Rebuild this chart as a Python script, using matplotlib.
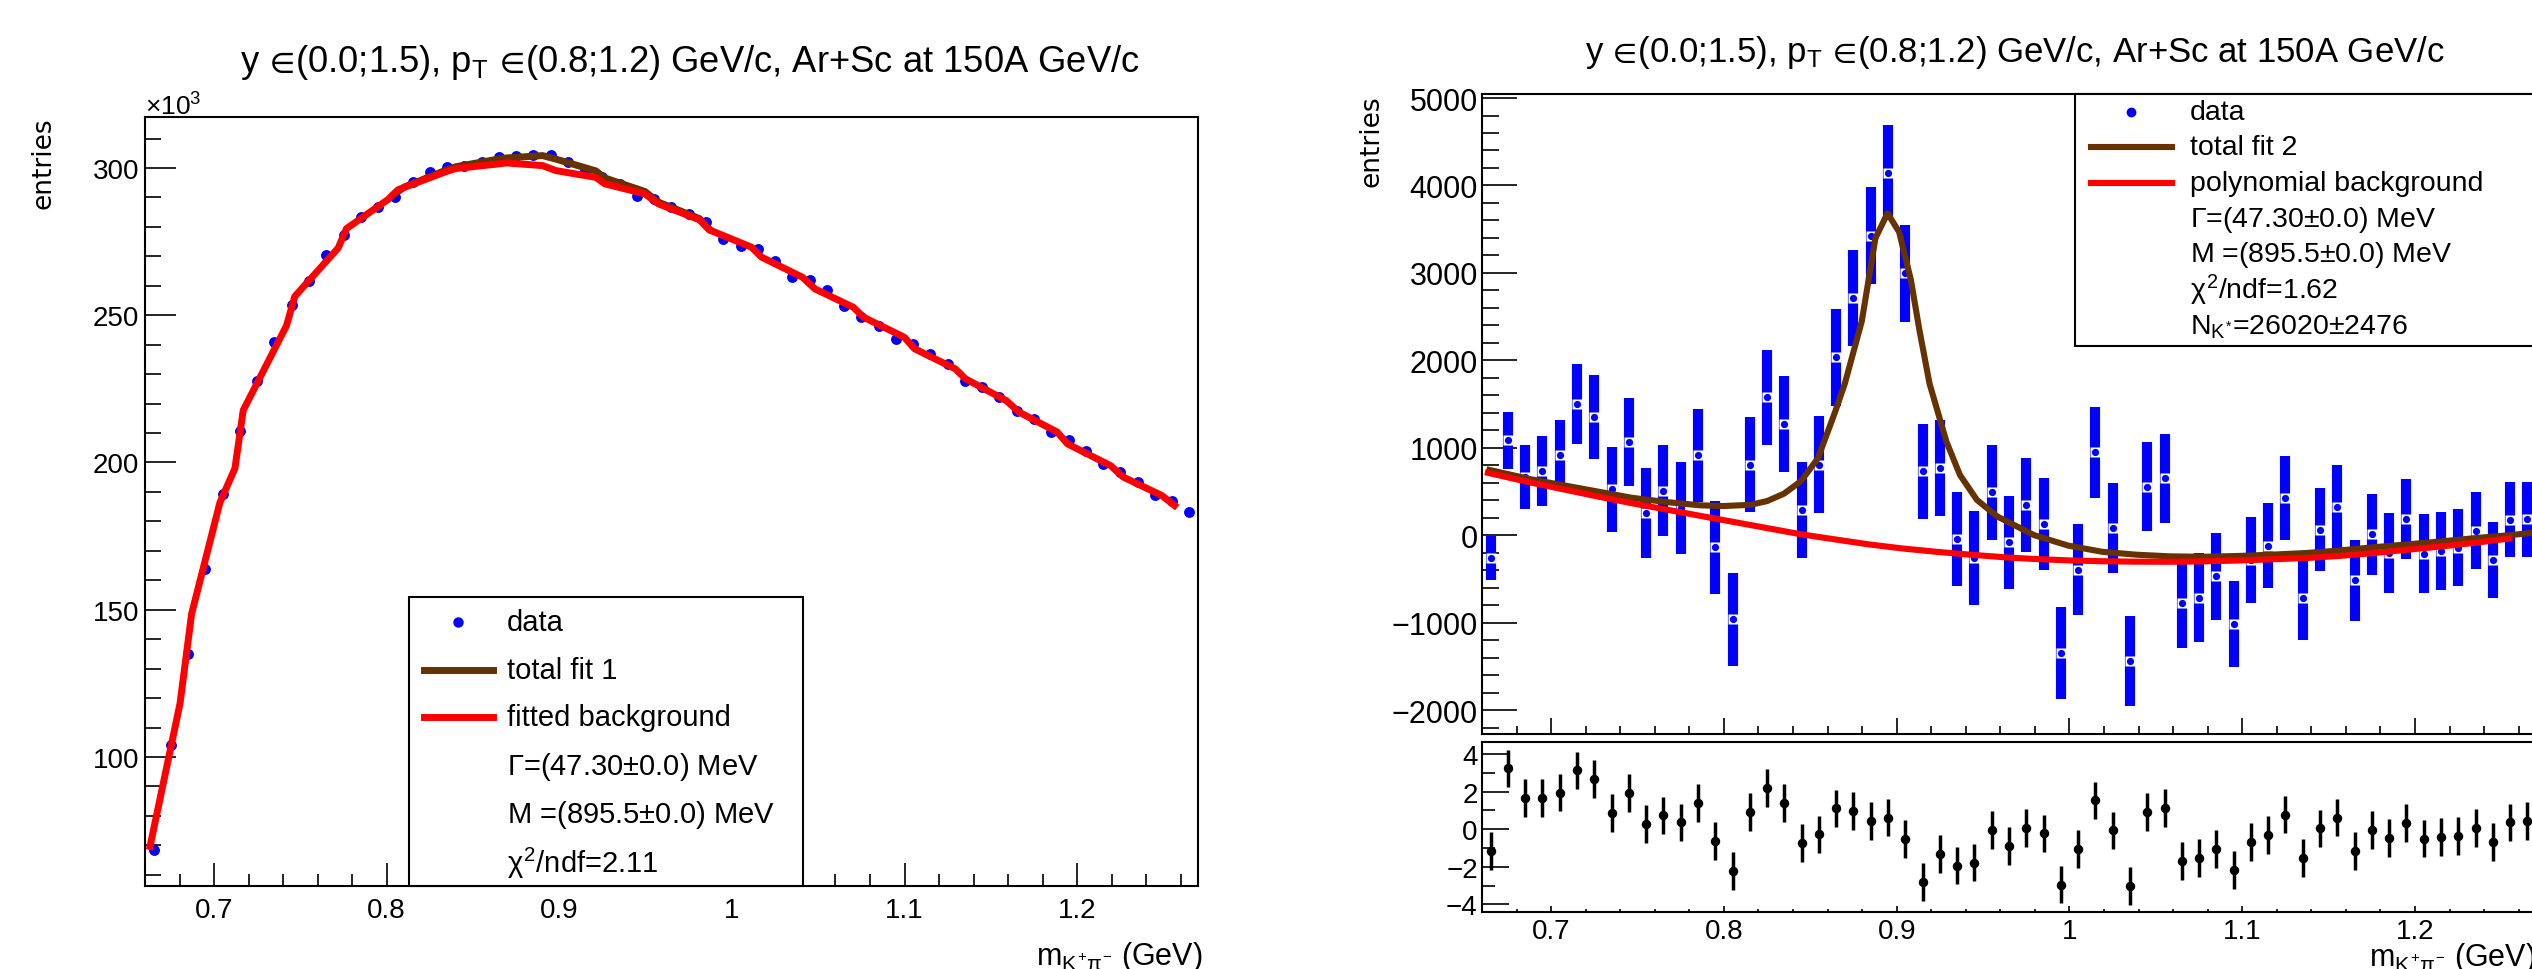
import matplotlib
matplotlib.use('Agg')
import matplotlib.pyplot as plt
from matplotlib.lines import Line2D
from matplotlib.patches import Rectangle
from matplotlib.ticker import MultipleLocator, FuncFormatter

plt.rcParams['font.family'] = ['Liberation Sans', 'DejaVu Sans']
plt.rcParams['mathtext.fontset'] = 'custom'
plt.rcParams['mathtext.rm'] = 'Liberation Sans'
plt.rcParams['mathtext.it'] = 'Liberation Sans'
plt.rcParams['mathtext.sf'] = 'Liberation Sans'
plt.rcParams['mathtext.fallback'] = 'stixsans'
plt.rcParams['axes.unicode_minus'] = True

# ---------------- data ----------------
mass = [0.665, 0.675, 0.685, 0.695, 0.705, 0.715, 0.725, 0.735, 0.745, 0.755,
        0.765, 0.775, 0.785, 0.795, 0.805, 0.815, 0.825, 0.835, 0.845, 0.855,
        0.865, 0.875, 0.885, 0.895, 0.905, 0.915, 0.925, 0.935, 0.945, 0.955,
        0.965, 0.975, 0.985, 0.995, 1.005, 1.015, 1.025, 1.035, 1.045, 1.055,
        1.065, 1.075, 1.085, 1.095, 1.105, 1.115, 1.125, 1.135, 1.145, 1.155,
        1.165, 1.175, 1.185, 1.195, 1.205, 1.215, 1.225, 1.235, 1.245, 1.255,
        1.265]

# left panel: entries (x10^3)
left_data = [68.5, 104.0, 135.0, 163.9, 189.3, 210.7, 227.7, 240.9, 253.3, 261.6,
             270.3, 277.2, 283.5, 286.8, 290.1, 295.4, 298.5, 300.2, 300.8, 302.1,
             303.6, 304.2, 304.5, 304.5, 302.1, 299.1, 296.8, 294.5, 290.4, 289.5,
             286.7, 284.4, 281.6, 275.9, 273.4, 272.5, 268.5, 262.9, 262.0, 258.7,
             253.1, 249.3, 246.3, 242.0, 240.1, 236.7, 233.5, 227.5, 225.6, 222.2,
             217.6, 214.8, 210.3, 207.5, 203.8, 199.4, 196.6, 193.4, 188.9, 187.0,
             183.2]

# fitted background curve (vertices of the drawn polyline, x10^3)
bg1_mass = [0.6629, 0.6803, 0.6870, 0.7034, 0.7121, 0.7169, 0.7420, 0.7468, 0.7719, 0.7767,
            0.8008, 0.8066, 0.8341, 0.8400, 0.8636, 0.8695, 0.8903, 0.8980, 0.9212, 0.9264,
            0.9496, 0.9574, 0.9812, 0.9868, 1.0113, 1.0172, 1.0408, 1.0482, 1.0703, 1.0763,
            1.0999, 1.1058, 1.1294, 1.1353, 1.1589, 1.1663, 1.1885, 1.1944, 1.2194, 1.2268,
            1.2490, 1.2564]
bg1_vals = [69.6, 118.2, 148.6, 186.4, 198.0, 217.7, 246.5, 256.4, 272.8, 279.4,
            289.3, 292.6, 298.7, 299.8, 301.3, 301.7, 300.8, 299.1, 296.8, 294.6,
            291.2, 287.8, 282.4, 279.0, 273.1, 269.7, 262.9, 258.9, 252.7, 249.3,
            242.5, 238.6, 231.8, 228.4, 221.0, 217.1, 210.3, 206.3, 198.9, 195.0,
            188.8, 185.4]
# total fit 1 (visible part of the polyline)
fit1_mass = [0.8046, 0.8105, 0.8341, 0.8400, 0.8636, 0.8695, 0.8903, 0.8980, 0.9212, 0.9264,
             0.9496, 0.9574, 0.9812, 0.9868]
fit1_vals = [291.2, 293.6, 299.2, 300.4, 302.9, 303.4, 304.2, 303.0, 299.0, 296.6,
             292.0, 288.4, 282.8, 279.3]

# right panel: background-subtracted entries and errors
sub = [-261, 1083, 660, 731, 917, 1501, 1354, 523, 1064, 252,
       508, 309, 912, -138, -964, 808, 1577, 1268, 285, 808,
       2033, 2713, 3425, 4147, 2993, 731, 770, -43, -261, 489,
       -81, 347, 128, -1344, -394, 950, 81, -1439, 556, 651,
       -774, -717, -470, -1021, -285, -119, 423, -713, 62, 328,
       -518, 10, -200, 181, -214, -181, -143, 52, -280, 176,
       181]
sub_err = [257, 321, 366, 401, 400, 461, 480, 489, 506, 513,
           520, 525, 530, 534, 537, 544, 546, 549, 549, 551,
           551, 551, 553, 544, 551, 546, 546, 541, 537, 539,
           534, 534, 530, 527, 523, 520, 518, 511, 511, 511,
           511, 508, 499, 492, 492, 487, 482, 482, 475, 473,
           463, 461, 458, 456, 451, 449, 439, 442, 435, 430,
           430]
resid = [-1.15, 3.23, 1.67, 1.67, 1.95, 3.13, 2.68, 0.87, 1.94, 0.28,
         0.73, 0.36, 1.40, -0.64, -2.24, 0.92, 2.18, 1.40, -0.73, -0.28,
         1.10, 0.98, 0.44, 0.62, -0.52, -2.81, -1.33, -1.94, -1.78, -0.05,
         -0.89, 0.07, -0.23, -2.95, -1.07, 1.53, -0.07, -3.02, 0.91, 1.12,
         -1.69, -1.55, -1.07, -2.17, -0.69, -0.32, 0.78, -1.55, 0.04, 0.62,
         -1.17, -0.04, -0.46, 0.32, -0.50, -0.43, -0.36, 0.07, -0.69, 0.36,
         0.43]

fit2_mass = [0.6643, 0.6879, 0.7074, 0.727, 0.7466, 0.7662, 0.7858, 0.7995, 0.8152, 0.825,
             0.8348, 0.8446, 0.8544, 0.8642, 0.870, 0.8798, 0.8877, 0.8947, 0.9014, 0.9082,
             0.9131, 0.919, 0.9288, 0.9366, 0.9464, 0.9582, 0.9796, 0.9992, 1.019, 1.0385,
             1.058, 1.0778, 1.0974, 1.117, 1.137, 1.156, 1.176, 1.1957, 1.2153, 1.235,
             1.2546, 1.2664]
fit2_vals = [746, 641, 570, 499, 428, 380, 342, 333, 347, 390,
             475, 618, 879, 1401, 1734, 2447, 3397, 3682, 3468, 2922,
             2352, 1734, 1069, 689, 404, 214, 0, -119, -190, -223,
             -242, -247, -238, -223, -204, -176, -138, -105, -71, -33,
             0, 24]
bg2_mass = [0.6634, 0.6879, 0.7074, 0.727, 0.7466, 0.7662, 0.7858, 0.8054, 0.825, 0.8446,
            0.8642, 0.8837, 0.9033, 0.9229, 0.9425, 0.964, 0.9796, 0.9992, 1.019, 1.0385,
            1.058, 1.0778, 1.0974, 1.117, 1.137, 1.156, 1.176, 1.1957, 1.2153, 1.235,
            1.2546]
bg2_vals = [713, 603, 523, 442, 366, 295, 223, 152, 81, 10,
            -48, -105, -152, -190, -223, -255, -272, -288, -298, -303,
            -304, -299, -290, -276, -261, -238, -204, -166, -128, -86,
            -38]

title = r'y $\!\in\!$(0.0;1.5), p$_{T}$ $\!\in\!$(0.8;1.2) GeV/c, Ar+Sc at 150A GeV/c'
xlab = r'm$_{K^{+}\pi^{-}}$ (GeV)'
legL = ['data', 'total fit 1', 'fitted background',
        r'$\Gamma$=(47.30$\pm$0.0) MeV', r'M =(895.5$\pm$0.0) MeV', r'$\chi^{2}$/ndf=2.11']
legR = ['data', 'total fit 2', 'polynomial background',
        r'$\Gamma$=(47.30$\pm$0.0) MeV', r'M =(895.5$\pm$0.0) MeV', r'$\chi^{2}$/ndf=1.62',
        r'N$_{K^{*}}$=26020$\pm$2476']

BLUE = '#0000ff'
BROWN = '#663300'
RED = '#ff0000'

W, H = 2532, 970
fig = plt.figure(figsize=(W / 100, H / 100), dpi=100)


def fb(x0, y0, x1, y1):
    return [x0 / W, 1 - y1 / H, (x1 - x0) / W, (y1 - y0) / H]


def fx(x):
    return x / W


def fy(y):
    return 1 - y / H


fmt = FuncFormatter(lambda v, p: ('%g' % round(v, 6)).replace('-', '\u2212'))

# ---------------- left panel ----------------
axL = fig.add_axes(fb(145, 118, 1198, 887))
axL.plot(mass, left_data, 'o', ms=6.8, color=BLUE, mec=BLUE, zorder=2, clip_on=False)
axL.plot(fit1_mass, fit1_vals, '-', color=BROWN, lw=5, zorder=3)
axL.plot(bg1_mass, bg1_vals, '-', color=RED, lw=5, zorder=4)
axL.set_xlim(0.66, 1.27)
axL.set_ylim(56.2, 317.3)
axL.xaxis.set_major_locator(MultipleLocator(0.1))
axL.xaxis.set_minor_locator(MultipleLocator(0.02))
axL.yaxis.set_major_locator(MultipleLocator(50))
axL.yaxis.set_minor_locator(MultipleLocator(10))
axL.xaxis.set_major_formatter(fmt)
axL.yaxis.set_major_formatter(fmt)
axL.tick_params(axis='y', which='major', direction='in', length=22, width=1.2, labelsize=20, pad=4)
axL.tick_params(axis='y', which='minor', direction='in', length=11.5, width=1.2)
axL.tick_params(axis='x', which='major', direction='in', length=16.5, width=1.2, labelsize=20, pad=8)
axL.tick_params(axis='x', which='minor', direction='in', length=8.5, width=1.2)
for s in axL.spines.values():
    s.set_linewidth(1.5)

fig.text(fx(690), fy(72), title, ha='center', va='baseline', fontsize=26.2)
fig.text(fx(145), fy(116), r'$\times$10$^{3}$', ha='left', va='baseline', fontsize=19)
fig.text(fx(44), fy(117), 'entries', rotation=90, ha='center', va='top', fontsize=19,
         family='DejaVu Sans')
fig.text(fx(1203), fy(965), xlab, ha='right', va='baseline', fontsize=22)

# left legend
fig.add_artist(Rectangle((fx(409), fy(887)), (803 - 409) / W, (887 - 598) / H,
                         transform=fig.transFigure, facecolor='white', edgecolor='black',
                         lw=1.5, zorder=10))
rowsL = [623, 671, 718, 767, 815, 863]
fig.add_artist(Line2D([fx(458)], [fy(rowsL[0])], marker='o', ms=6.5, color=BLUE,
                      transform=fig.transFigure, zorder=11))
fig.add_artist(Line2D([fx(424), fx(493)], [fy(rowsL[1])] * 2, color=BROWN, lw=5,
                      transform=fig.transFigure, zorder=11))
fig.add_artist(Line2D([fx(424), fx(493)], [fy(rowsL[2])] * 2, color=RED, lw=5,
                      transform=fig.transFigure, zorder=11))
for t, r in zip(legL, rowsL):
    fig.text(fx(507), fy(r), t, ha='left', va='center', fontsize=21, zorder=12)

# ---------------- right panel (main) ----------------
axR = fig.add_axes(fb(1482, 95, 2536, 735))
axR.errorbar(mass, sub, yerr=sub_err, fmt='none', ecolor=BLUE, elinewidth=7.3,
             capsize=0, zorder=2)
axR.plot(mass, sub, 's', ms=7.6, mfc='white', mec='none', zorder=3)
axR.plot(mass, sub, 'o', ms=5.2, mfc=BLUE, mec='none', zorder=3.5)
axR.plot(fit2_mass, fit2_vals, '-', color=BROWN, lw=4.4, zorder=4)
axR.plot(bg2_mass, bg2_vals, '-', color=RED, lw=4.4, zorder=5)
axR.set_xlim(0.66, 1.27)
axR.set_ylim(-2274, 5046)
axR.xaxis.set_major_locator(MultipleLocator(0.1))
axR.xaxis.set_minor_locator(MultipleLocator(0.02))
axR.yaxis.set_major_locator(MultipleLocator(1000))
axR.yaxis.set_minor_locator(MultipleLocator(200))
axR.yaxis.set_major_formatter(fmt)
axR.tick_params(axis='y', which='major', direction='in', length=25, width=1.2, labelsize=22, pad=3)
axR.tick_params(axis='y', which='minor', direction='in', length=12.4, width=1.2)
axR.tick_params(axis='x', which='major', direction='in', length=11.5, width=1.2, labelbottom=False)
axR.tick_params(axis='x', which='minor', direction='in', length=5.8, width=1.2)
for s in axR.spines.values():
    s.set_linewidth(1.5)

fig.text(fx(2015), fy(62), title, ha='center', va='baseline', fontsize=25)
fig.text(fx(1371), fy(95), 'entries', rotation=90, ha='center', va='top', fontsize=19,
         family='DejaVu Sans')

# right legend
fig.add_artist(Rectangle((fx(2075), fy(347)), (2600 - 2075) / W, (347 - 95) / H,
                         transform=fig.transFigure, facecolor='white', edgecolor='black',
                         lw=1.5, zorder=10))
rowsR = [113, 148, 184, 220, 255, 290, 327]
fig.add_artist(Line2D([fx(2131)], [fy(rowsR[0])], marker='o', ms=6.0, color=BLUE,
                      transform=fig.transFigure, zorder=11))
fig.add_artist(Line2D([fx(2091), fx(2172)], [fy(rowsR[1])] * 2, color=BROWN, lw=4.4,
                      transform=fig.transFigure, zorder=11))
fig.add_artist(Line2D([fx(2091), fx(2172)], [fy(rowsR[2])] * 2, color=RED, lw=4.4,
                      transform=fig.transFigure, zorder=11))
for t, r in zip(legR, rowsR):
    fig.text(fx(2190), fy(r), t, ha='left', va='center', fontsize=20.5, zorder=12)

# ---------------- right panel (residuals) ----------------
axP = fig.add_axes(fb(1482, 743, 2536, 913))
axP.errorbar(mass, resid, yerr=1.0, fmt='o', color='black', ms=5.8, elinewidth=2.5,
             capsize=0, zorder=3)
axP.set_xlim(0.66, 1.27)
axP.set_ylim(-4.41, 4.64)
axP.xaxis.set_major_locator(MultipleLocator(0.1))
axP.xaxis.set_minor_locator(MultipleLocator(0.02))
axP.yaxis.set_major_locator(MultipleLocator(2))
axP.yaxis.set_minor_locator(MultipleLocator(1))
axP.xaxis.set_major_formatter(fmt)
axP.yaxis.set_major_formatter(fmt)
axP.tick_params(axis='y', which='major', direction='in', length=19.5, width=1.2, labelsize=20, pad=3)
axP.tick_params(axis='y', which='minor', direction='in', length=9.7, width=1.2)
axP.tick_params(axis='x', which='major', direction='in', length=4.5, width=1.2, labelsize=20, pad=4)
axP.tick_params(axis='x', which='minor', direction='in', length=2.5, width=1.2)
for s in axP.spines.values():
    s.set_linewidth(1.5)

fig.text(fx(2536), fy(966), xlab, ha='right', va='baseline', fontsize=22)

fig.savefig('out.png', dpi=100, facecolor='white')
